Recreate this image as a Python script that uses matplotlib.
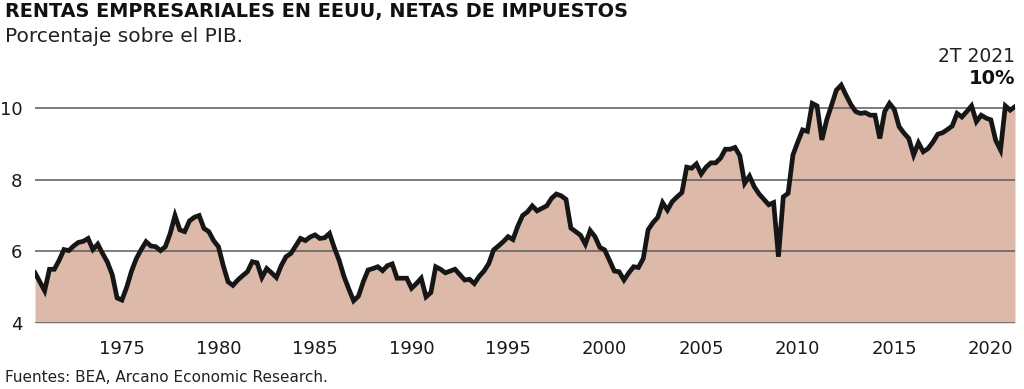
import matplotlib.pyplot as plt
import numpy as np

# quarterly after-tax corporate profits, % of GDP (3T 1970 .. 2T 2021)
first_quarter = 1970.5
profit_share = [
    5.4, 5.15,
    4.9, 5.5, 5.5, 5.75,
    6.05, 6.02, 6.15, 6.25,
    6.28, 6.36, 6.05, 6.2,
    5.94, 5.7, 5.35, 4.7,
    4.64, 5.0, 5.45, 5.8,
    6.05, 6.27, 6.15, 6.13,
    6.02, 6.13, 6.5, 7.0,
    6.6, 6.55, 6.85, 6.95,
    7.0, 6.64, 6.55, 6.3,
    6.13, 5.6, 5.15, 5.05,
    5.2, 5.32, 5.43, 5.71,
    5.68, 5.27, 5.52, 5.4,
    5.27, 5.6, 5.85, 5.94,
    6.15, 6.36, 6.3, 6.4,
    6.46, 6.36, 6.38, 6.5,
    6.1, 5.75, 5.3, 4.95,
    4.62, 4.75, 5.15, 5.48,
    5.52, 5.57, 5.46, 5.6,
    5.65, 5.25, 5.25, 5.25,
    4.97, 5.1, 5.25, 4.73,
    4.85, 5.57, 5.5, 5.4,
    5.45, 5.5, 5.35, 5.2,
    5.22, 5.1, 5.3, 5.45,
    5.66, 6.04, 6.15, 6.27,
    6.41, 6.33, 6.7, 7.0,
    7.1, 7.27, 7.13, 7.2,
    7.27, 7.48, 7.6, 7.55,
    7.45, 6.65, 6.55, 6.45,
    6.2, 6.58, 6.41, 6.11,
    6.04, 5.75, 5.45, 5.43,
    5.2, 5.4, 5.57, 5.55,
    5.8, 6.6, 6.8, 6.95,
    7.36, 7.15, 7.39, 7.52,
    7.64, 8.35, 8.32, 8.44,
    8.16, 8.35, 8.47, 8.47,
    8.6, 8.85, 8.85, 8.9,
    8.67, 7.9, 8.1, 7.8,
    7.6, 7.45, 7.3, 7.36,
    5.85, 7.52, 7.62, 8.69,
    9.05, 9.39, 9.35, 10.13,
    10.06, 9.11, 9.67, 10.08,
    10.5, 10.64, 10.36, 10.1,
    9.9, 9.85, 9.87, 9.8,
    9.8, 9.15, 9.9, 10.13,
    9.96, 9.48, 9.3, 9.15,
    8.69, 9.03, 8.78, 8.87,
    9.05, 9.27, 9.31, 9.4,
    9.5, 9.85, 9.75, 9.9,
    10.06, 9.62, 9.8, 9.72,
    9.67, 9.1, 8.83, 10.06,
    9.94, 10.04,
]
year_ticks = [1975, 1980, 1985, 1990, 1995, 2000, 2005, 2010, 2015, 2020]
y_ticks = [4, 6, 8, 10]

title = "RENTAS EMPRESARIALES EN EEUU, NETAS DE IMPUESTOS"
subtitle = "Porcentaje sobre el PIB."
source = "Fuentes: BEA, Arcano Economic Research."
last_label = "2T 2021"
last_value = "10%"

x = first_quarter + 0.25 * np.arange(len(profit_share))
y = np.array(profit_share)

fig = plt.figure(figsize=(10.24, 3.89), dpi=100)
ax = fig.add_axes([35 / 1024, 1 - 323 / 389, 980 / 1024, (323 - 72.2) / 389])

ax.fill_between(x, 4, y, color="#dcb9a8", linewidth=0, zorder=1)
for t in y_ticks:
    ax.axhline(t, color="#5a5a5a", linewidth=1.1, zorder=2)
ax.plot(x, y, color="#161616", linewidth=3.4, solid_joinstyle="miter", zorder=3)

ax.set_xlim(x[0], x[-1])
ax.set_ylim(4, 11)
ax.set_xticks(year_ticks)
ax.set_yticks(y_ticks)
ax.tick_params(axis="both", length=0, labelsize=13, colors="#1a1a1a")
ax.tick_params(axis="x", pad=12)
ax.tick_params(axis="y", pad=9)
for s in ax.spines.values():
    s.set_visible(False)

fig.text(5 / 1024, 1 - 12 / 389, title, fontsize=13.9, fontweight="bold",
         va="center", ha="left", color="#111111")
fig.text(5 / 1024, 1 - 37 / 389, subtitle, fontsize=14.5, va="center",
         ha="left", color="#222222")
fig.text(1015 / 1024, 1 - 57 / 389, last_label, fontsize=13.5, va="center",
         ha="right", color="#222222")
fig.text(1015 / 1024, 1 - 78 / 389, last_value, fontsize=14, fontweight="bold",
         va="center", ha="right", color="#111111")
fig.text(5 / 1024, 1 - 378 / 389, source, fontsize=11, va="center",
         ha="left", color="#222222")

fig.savefig("out.png", dpi=100)
